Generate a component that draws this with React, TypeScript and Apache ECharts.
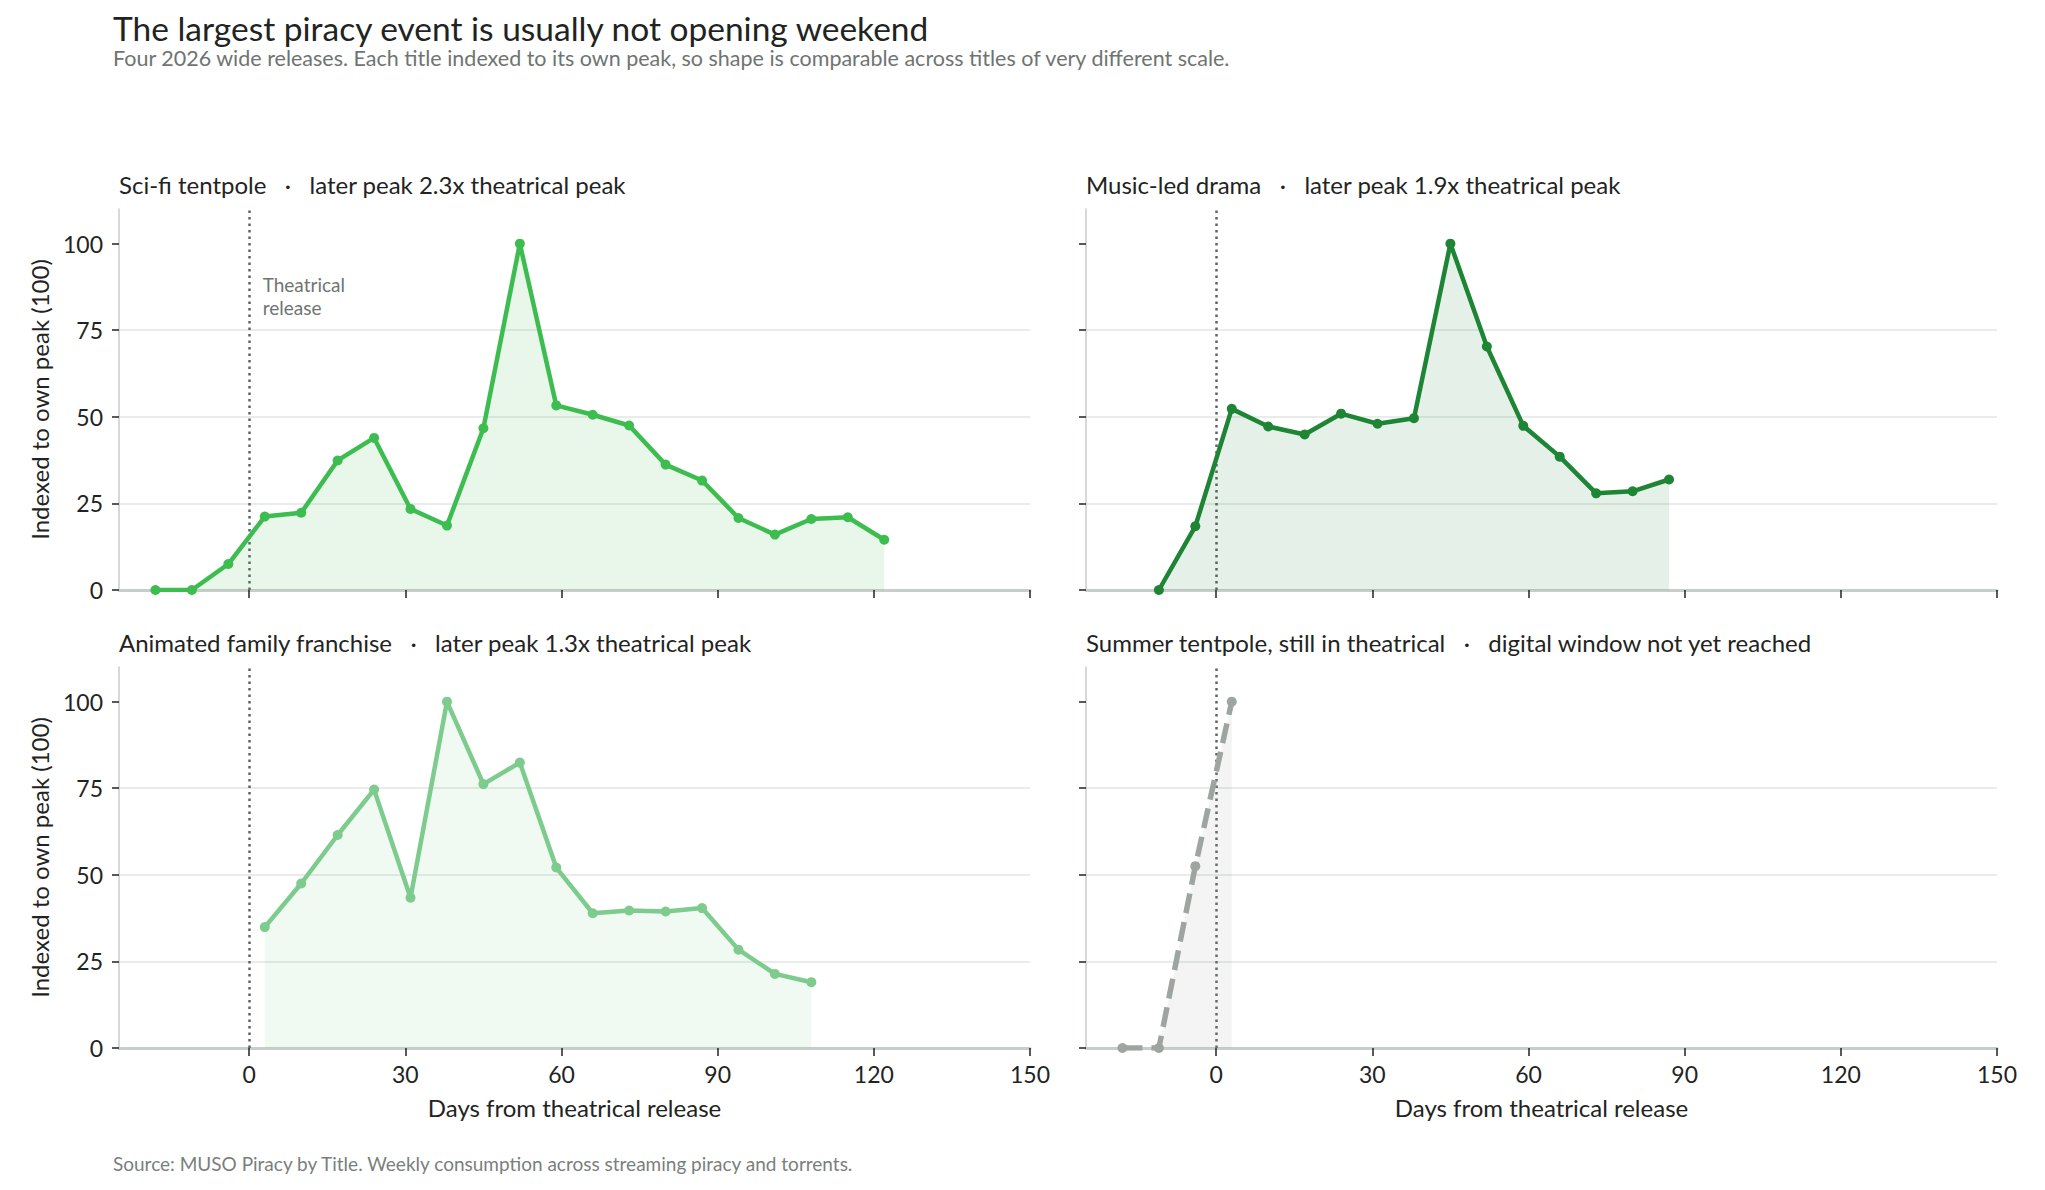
import { useEffect, useRef } from 'react';
import * as echarts from 'echarts';

// weekly points, days from theatrical release, indexed to each title's own peak
const scifiDays = [-18, -11, -4, 3, 10, 17, 24, 31, 38, 45, 52, 59, 66, 73, 80, 87, 94, 101, 108, 115, 122];
const scifiValues = [0, 0, 7.5, 21.2, 22.3, 37.4, 43.9, 23.4, 18.6, 46.7, 100, 53.3, 50.6, 47.5, 36.2, 31.6, 20.8, 16, 20.5, 21, 14.5];

const musicDays = [-11, -4, 3, 10, 17, 24, 31, 38, 45, 52, 59, 66, 73, 80, 87];
const musicValues = [0, 18.4, 52.3, 47.2, 44.9, 50.9, 48, 49.6, 100, 70.3, 47.4, 38.5, 27.9, 28.5, 31.9];

const animatedDays = [3, 10, 17, 24, 31, 38, 45, 52, 59, 66, 73, 80, 87, 94, 101, 108];
const animatedValues = [34.9, 47.5, 61.5, 74.6, 43.4, 100, 76.2, 82.4, 52.1, 38.9, 39.7, 39.4, 40.4, 28.4, 21.4, 19];

const summerDays = [-18, -11, -4, 3];
const summerValues = [0, 0, 52.5, 100];

const panelNames = ['Sci-fi tentpole', 'Music-led drama', 'Animated family franchise', 'Summer tentpole, still in theatrical'];
const panelNotes = ['later peak 2.3x theatrical peak', 'later peak 1.9x theatrical peak', 'later peak 1.3x theatrical peak', 'digital window not yet reached'];

const xTicks = [0, 30, 60, 90, 120, 150];
const yTicks = [0, 25, 50, 75, 100];

const FONT = 'Lato, "Noto Sans", sans-serif';
const INK = '#1f2422';

const panels = [
    { days: scifiDays, values: scifiValues, color: '#3dbd50', area: 'rgba(61,189,80,0.16)', dashed: false },
    { days: musicDays, values: musicValues, color: '#1e8535', area: 'rgba(30,133,53,0.16)', dashed: false },
    { days: animatedDays, values: animatedValues, color: '#7dcb8d', area: 'rgba(125,203,141,0.17)', dashed: false },
    { days: summerDays, values: summerValues, color: '#9ea5a0', area: 'rgba(158,165,160,0.18)', dashed: true },
];

// grid boxes: [left, top]
const gridPos = [
    [119, 209],
    [1086, 209],
    [119, 667],
    [1086, 667],
];
const GRID_W = 911;
const GRID_H = 381;

export default function App() {
    const chartRef = useRef<HTMLDivElement>(null);

    useEffect(() => {
        if (!chartRef.current) return;
        const chart = echarts.init(chartRef.current, null, { renderer: 'svg' });

        const grids = gridPos.map(([left, top]) => ({ left, top, width: GRID_W, height: GRID_H }));

        const xAxes = panels.map((_, i) => ({
            type: 'value',
            gridIndex: i,
            min: -25,
            max: 150,
            name: i >= 2 ? 'Days from theatrical release' : '',
            nameLocation: 'middle',
            nameGap: 47,
            nameTextStyle: { fontSize: 24, color: INK, fontFamily: FONT },
            axisLine: { show: true, onZero: false, lineStyle: { color: '#c7cdca', width: 3 } },
            axisTick: { show: true, length: 8, customValues: xTicks, lineStyle: { color: '#222', width: 1.5 } },
            axisLabel: {
                show: i >= 2,
                customValues: xTicks,
                margin: 14,
                fontSize: 23,
                color: INK,
                fontFamily: FONT,
            },
            splitLine: { show: false },
        }));

        const yAxes = panels.map((_, i) => ({
            type: 'value',
            gridIndex: i,
            min: 0,
            max: 110,
            interval: 25,
            name: i % 2 === 0 ? 'Indexed to own peak (100)' : '',
            nameLocation: 'middle',
            nameGap: 68,
            nameTextStyle: { fontSize: 24, color: INK, fontFamily: FONT },
            axisLine: { show: true, onZero: false, lineStyle: { color: '#c7cdca', width: 1.5 } },
            axisTick: { show: true, length: 7, customValues: yTicks, lineStyle: { color: '#222', width: 1.5 } },
            axisLabel: {
                show: i % 2 === 0,
                customValues: yTicks,
                margin: 16,
                fontSize: 23,
                color: INK,
                fontFamily: FONT,
            },
            splitLine: { show: true, showMinLine: false, showMaxLine: false, lineStyle: { color: '#e9ecea', width: 2 } },
        }));

        const series = panels.map((p, i) => ({
            type: 'line',
            xAxisIndex: i,
            yAxisIndex: i,
            data: p.days.map((d, k) => [d, p.values[k]]),
            symbol: 'circle',
            symbolSize: 10,
            showSymbol: true,
            lineStyle: { color: p.color, width: p.dashed ? 5.5 : 4.5, type: p.dashed ? [20, 9] : 'solid' },
            itemStyle: { color: p.color },
            areaStyle: { color: p.area, origin: 'start' },
            z: 3,
            markLine: {
                silent: true,
                symbol: 'none',
                label: { show: false },
                lineStyle: { color: '#5f6461', type: [2.5, 4], width: 2.5 },
                data: [{ xAxis: 0 }],
                z: 2,
            },
            markPoint: i === 0 ? {
                silent: true,
                symbol: 'circle',
                symbolSize: 0,
                data: [{ coord: [2.6, 85] }],
                label: {
                    show: true,
                    position: 'right',
                    distance: 0,
                    formatter: 'Theatrical\nrelease',
                    align: 'left',
                    fontSize: 19,
                    lineHeight: 23,
                    color: '#6f7471',
                    fontFamily: FONT,
                },
            } : undefined,
        }));

        const panelTitles = panels.map((_, i) => ({
            type: 'text',
            x: gridPos[i][0],
            y: gridPos[i][1] - 25,
            style: {
                text: `${panelNames[i]}   ·   ${panelNotes[i]}`,
                fontSize: 24,
                lineHeight: 26,
                fontFamily: FONT,
                fill: INK,
                textVerticalAlign: 'middle',
            },
        }));

        chart.setOption({
            animation: false,
            backgroundColor: '#ffffff',
            textStyle: { fontFamily: FONT },
            grid: grids,
            xAxis: xAxes,
            yAxis: yAxes,
            series,
            graphic: [
                {
                    type: 'text',
                    x: 113,
                    y: 28,
                    style: {
                        text: 'The largest piracy event is usually not opening weekend',
                        fontSize: 33.5,
                        lineHeight: 33,
                        fontFamily: FONT,
                        fill: INK,
                        textVerticalAlign: 'middle',
                    },
                },
                {
                    type: 'text',
                    x: 113,
                    y: 58,
                    style: {
                        text: 'Four 2026 wide releases. Each title indexed to its own peak, so shape is comparable across titles of very different scale.',
                        fontSize: 21.5,
                        lineHeight: 22,
                        fontFamily: FONT,
                        fill: '#6f7471',
                        textVerticalAlign: 'middle',
                    },
                },
                ...panelTitles,
                {
                    type: 'text',
                    x: 113,
                    y: 1163,
                    style: {
                        text: 'Source: MUSO Piracy by Title. Weekly consumption across streaming piracy and torrents.',
                        fontSize: 19,
                        fontFamily: FONT,
                        fill: '#7a7f7c',
                        textVerticalAlign: 'middle',
                    },
                },
            ],
        });

        return () => chart.dispose();
    }, []);

    return (
        <div
            ref={chartRef}
            style={{ position: 'fixed', left: 0, top: 0, width: 2045, height: 1190, background: '#fff' }}
        />
    );
}
